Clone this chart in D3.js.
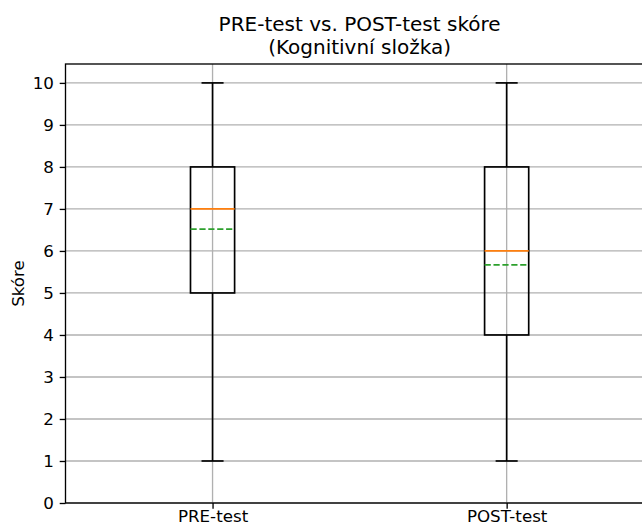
<!DOCTYPE html>
<html><head><meta charset="utf-8">
<script src="https://cdn.jsdelivr.net/npm/d3@7"></script>
<style>body{margin:0;background:#fff}svg{display:block}text{font-family:"DejaVu Sans",sans-serif}</style>
</head><body>
<svg id="c" width="642" height="526"></svg>
<script>
const categories = ["PRE-test", "POST-test"];
const whiskerLow = [1, 1];
const q1 = [5, 4];
const medians = [7, 6];
const q3 = [8, 8];
const whiskerHigh = [10, 10];
const means = [6.52, 5.67];
const yTicks = [0,1,2,3,4,5,6,7,8,9,10];
const titleLines = ["PRE-test vs. POST-test skóre", "(Kognitivní složka)"];
const yLabel = "Skóre";

const svg = d3.select("#c");
const L = 65.5, R = 653.7, T = 64, B = 503;
const x = d3.scaleLinear().domain([0.5, 2.5]).range([L, R]);
const y = d3.scaleLinear().domain([0, 10.45]).range([B, T]);
const boxW = x(1.15) - x(1);
const capW = boxW / 2;
const lw = 1.67, thin = 1.33, tick = 5.8;

const g = svg.append("g");
// grid
g.selectAll(".gy").data(yTicks).join("line")
  .attr("x1", L).attr("x2", R).attr("y1", d => y(d)).attr("y2", d => y(d))
  .attr("stroke", "#b0b0b0").attr("stroke-width", thin);
g.selectAll(".gx").data(categories).join("line")
  .attr("x1", (d,i) => x(i+1)).attr("x2", (d,i) => x(i+1)).attr("y1", T).attr("y2", B)
  .attr("stroke", "#b0b0b0").attr("stroke-width", thin);

// boxes
categories.forEach((c, i) => {
  const cx = x(i + 1);
  const bg = g.append("g");
  bg.append("line").attr("x1", cx).attr("x2", cx).attr("y1", y(whiskerLow[i])).attr("y2", y(q1[i])).attr("stroke", "#000").attr("stroke-width", lw);
  bg.append("line").attr("x1", cx).attr("x2", cx).attr("y1", y(q3[i])).attr("y2", y(whiskerHigh[i])).attr("stroke", "#000").attr("stroke-width", lw);
  bg.append("line").attr("x1", cx - capW/2).attr("x2", cx + capW/2).attr("y1", y(whiskerLow[i])).attr("y2", y(whiskerLow[i])).attr("stroke", "#000").attr("stroke-width", lw);
  bg.append("line").attr("x1", cx - capW/2).attr("x2", cx + capW/2).attr("y1", y(whiskerHigh[i])).attr("y2", y(whiskerHigh[i])).attr("stroke", "#000").attr("stroke-width", lw);
  bg.append("rect").attr("x", cx - boxW/2).attr("width", boxW).attr("y", y(q3[i])).attr("height", y(q1[i]) - y(q3[i]))
    .attr("fill", "none").attr("stroke", "#000").attr("stroke-width", lw);
  bg.append("line").attr("x1", cx - boxW/2).attr("x2", cx + boxW/2).attr("y1", y(medians[i])).attr("y2", y(medians[i])).attr("stroke", "#ff7f0e").attr("stroke-width", lw);
  bg.append("line").attr("x1", cx - boxW/2).attr("x2", cx + boxW/2).attr("y1", y(means[i])).attr("y2", y(means[i])).attr("stroke", "#2ca02c").attr("stroke-width", lw).attr("stroke-dasharray", "6.2,2.7");
});

// axes
const yAxis = d3.axisLeft(y).tickValues(yTicks).tickSize(tick).tickPadding(tick).tickFormat(d3.format("d"));
const ya = svg.append("g").attr("transform", `translate(${L},0)`).call(yAxis);
const xAxis = d3.axisBottom(x).tickValues([1,2]).tickSize(tick).tickPadding(tick).tickFormat((d) => categories[d-1]);
const xa = svg.append("g").attr("transform", `translate(0,${B})`).call(xAxis);
[ya, xa].forEach(a => {
  a.select(".domain").remove();
  a.selectAll(".tick line").attr("stroke", "#000").attr("stroke-width", thin);
  a.selectAll(".tick text").attr("font-size", 16.7).attr("fill", "#000").attr("font-family", "DejaVu Sans");
});
xa.selectAll(".tick text").attr("dy", null).attr("y", null).attr("transform", `translate(0,${522 - B})`);
// spines
svg.append("rect").attr("x", L).attr("y", T).attr("width", R - L).attr("height", B - T)
  .attr("fill", "none").attr("stroke", "#000").attr("stroke-width", thin);

// title
svg.append("text").attr("x", (L + R) / 2).attr("y", 31).attr("text-anchor", "middle").attr("font-size", 20).text(titleLines[0]);
svg.append("text").attr("x", (L + R) / 2).attr("y", 54).attr("text-anchor", "middle").attr("font-size", 20).text(titleLines[1]);
// y label
svg.append("text").attr("transform", `translate(23.5,${(T + B) / 2}) rotate(-90)`).attr("text-anchor", "middle").attr("font-size", 16.7).text(yLabel);
</script>
</body></html>
